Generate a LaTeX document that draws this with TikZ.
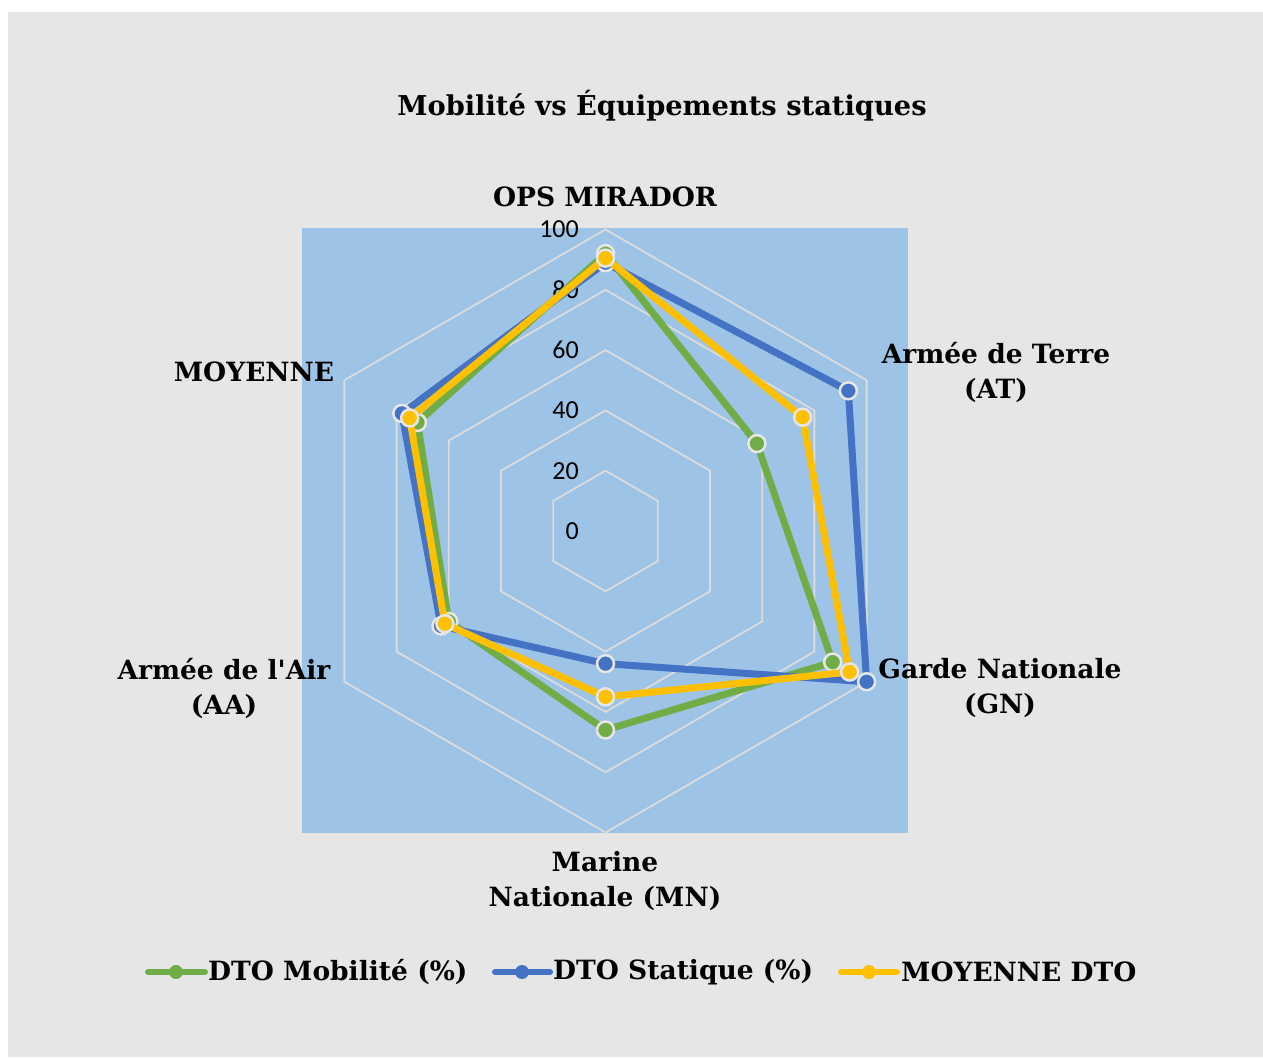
\documentclass[tikz,border=0pt]{standalone}
\usepackage{fontspec}
\setmainfont{DejaVu Serif}
\newfontfamily\tickfont{Carlito}
\definecolor{bgray}{HTML}{E6E6E6}
\definecolor{plotblue}{HTML}{9DC3E6}
\definecolor{gridc}{HTML}{DCDCDC}
\definecolor{sgreen}{HTML}{70AD47}
\definecolor{sblue}{HTML}{4472C4}
\definecolor{syellow}{HTML}{FFC000}
\definecolor{mkborder}{HTML}{E7E6E6}
\begin{document}
\begin{tikzpicture}[x=1pt,y=-1pt,
  lbl/.style={font=\fontsize{26.5}{35}\selectfont\bfseries, align=center, inner sep=0pt},
  ticklbl/.style={font=\tickfont\fontsize{26}{26}\selectfont, anchor=east, inner sep=0pt},
  gridline/.style={draw=gridc, line width=1.8},
  series/.style={line width=7, line join=round},
  mk/.style={circle, draw=mkborder, line width=2.5, minimum size=17, inner sep=0pt},
  legline/.style={line width=6, line cap=round},
  legmk/.style={circle, minimum size=14, inner sep=0pt},
]
\useasboundingbox (0,0) rectangle (1263,1057);
\fill[white] (0,0) rectangle (1263,1057);
\fill[bgray] (8,12) rectangle (1263,1057);
\fill[plotblue] (302,228) rectangle (908,833);

\begin{scope}[shift={(605.5,531)}]
  % grid rings
  \foreach \r in {20,40,60,80,100}
    \draw[gridline] (90:{\r*3.015pt}) -- (30:{\r*3.015pt}) -- (-30:{\r*3.015pt}) -- (-90:{\r*3.015pt}) -- (210:{\r*3.015pt}) -- (150:{\r*3.015pt}) -- cycle;
  % data points
  \foreach \a/\v [count=\i] in {90/92,30/58,-30/87,-90/66,210/60,150/72}
    \coordinate (g\i) at (\a:{\v*3.015pt});
  \foreach \a/\v [count=\i] in {90/89,30/93,-30/100,-90/44,210/63,150/78}
    \coordinate (b\i) at (\a:{\v*3.015pt});
  \foreach \a/\v [count=\i] in {90/90.5,30/75.5,-30/93.5,-90/55,210/61.5,150/75}
    \coordinate (y\i) at (\a:{\v*3.015pt});
\end{scope}

% tick labels
\foreach \v in {0,20,40,60,80,100}
  \node[ticklbl] (t\v) at (579,{531-\v*3.015}) {\v};

% series
\draw[series, sgreen] (g1) -- (g2) -- (g3) -- (g4) -- (g5) -- (g6) -- cycle;
\foreach \i in {1,...,6} \node[mk, fill=sgreen] (gm\i) at (g\i) {};
\draw[series, sblue] (b1) -- (b2) -- (b3) -- (b4) -- (b5) -- (b6) -- cycle;
\foreach \i in {1,...,6} \node[mk, fill=sblue] (bm\i) at (b\i) {};
\draw[series, syellow] (y1) -- (y2) -- (y3) -- (y4) -- (y5) -- (y6) -- cycle;
\foreach \i in {1,...,6} \node[mk, fill=syellow] (ym\i) at (y\i) {};

% labels
\node[lbl, font=\fontsize{27.3}{35}\selectfont\bfseries] (title) at (662,106) {Mobilité vs Équipements statiques};
\node[lbl] (ops) at (605,197) {OPS MIRADOR};
\node[lbl] (at) at (996,372) {Armée de Terre\\(AT)};
\node[lbl] (gn) at (1000,688) {Garde Nationale\\(GN)};
\node[lbl] (mn) at (605,881) {Marine\\Nationale (MN)};
\node[lbl] (aa) at (224,688) {Armée de l{\textquotesingle}Air\\(AA)};
\node[lbl] (moy) at (254,372) {MOYENNE};

% legend
\coordinate (lga) at (148,972); \coordinate (lgb) at (205,972);
\draw[legline, sgreen] (lga) -- (lgb);
\node[legmk, fill=sgreen] (lgm) at (176,972) {};
\node[lbl, anchor=west] (lgt) at (208,972) {DTO Mobilité (\%)};
\coordinate (lba) at (495,972); \coordinate (lbb) at (550,972);
\draw[legline, sblue] (lba) -- (lbb);
\node[legmk, fill=sblue] (lbm) at (522,972) {};
\node[lbl, anchor=west] (lbt) at (553,972) {DTO Statique (\%)};
\coordinate (lya) at (841,972); \coordinate (lyb) at (897,972);
\draw[legline, syellow] (lya) -- (lyb);
\node[legmk, fill=syellow] (lym) at (869,972) {};
\node[lbl, anchor=west] (lyt) at (901,972) {MOYENNE DTO};
\end{tikzpicture}
\end{document}
